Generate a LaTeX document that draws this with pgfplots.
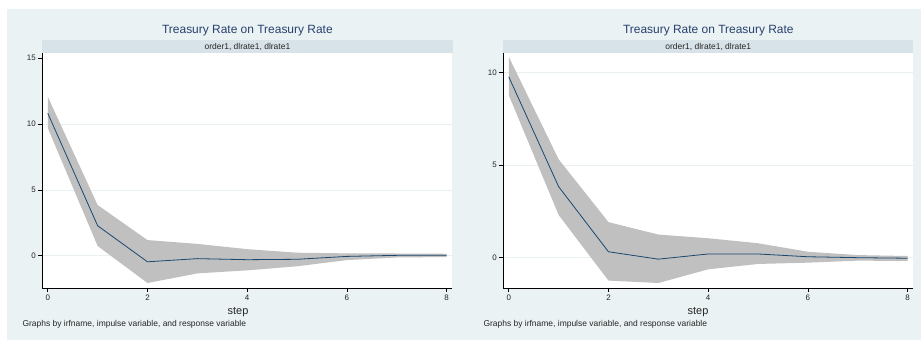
\documentclass[border=0pt]{standalone}
\usepackage{fontspec}
\setmainfont{Liberation Sans}
\usepackage{pgfplots}
\usepackage{pgfplotstable}
\pgfplotsset{compat=1.18}

\definecolor{bgc}{RGB}{234,242,243}
\definecolor{stripc}{RGB}{216,227,233}
\definecolor{navyc}{RGB}{26,71,111}
\definecolor{titlec}{RGB}{40,64,110}
\definecolor{bandc}{RGB}{192,192,192}
\definecolor{gridc}{RGB}{232,240,241}

% impulse response of the Treasury rate (irf) ...
\pgfplotstableread{
step irf
0 10.82
1 2.28
2 -0.46
3 -0.22
4 -0.30
5 -0.27
6 -0.05
7 0.03
8 0.03
}\irfA
% ... and its confidence band: upper bound out, lower bound back
\pgfplotstableread{
step bound
0 12.08
1 3.85
2 1.19
3 0.90
4 0.50
5 0.23
6 0.18
7 0.17
8 0.15
8 -0.10
7 -0.13
6 -0.33
5 -0.80
4 -1.11
3 -1.34
2 -2.07
1 0.74
0 9.70
}\bandA

\pgfplotstableread{
step irf
0 9.78
1 3.84
2 0.32
3 -0.08
4 0.20
5 0.20
6 0.05
7 0.00
8 -0.03
}\irfB
\pgfplotstableread{
step bound
0 10.86
1 5.32
2 1.92
3 1.25
4 1.05
5 0.78
6 0.32
7 0.14
8 0.09
8 -0.18
7 -0.16
6 -0.27
5 -0.34
4 -0.63
3 -1.37
2 -1.24
1 2.31
0 8.79
}\bandB

\pgfplotsset{
  irfpanel/.style={
    scale only axis, anchor=south west,
    width=410bp, height=235bp,
    xmin=-0.11, xmax=8.115, xtick={0,2,4,6,8},
    axis x line*=bottom, axis y line*=left,
    axis line style={-, black, line width=0.9bp},
    tick align=outside, major tick length=4bp,
    tick style={black, line width=0.6bp},
    ymajorgrids, grid style={gridc, line width=0.7bp},
    tick label style={font=\fontsize{8}{9}\selectfont, text=black!85},
    xticklabel style={yshift=1bp},
    yticklabel style={xshift=1bp},
    extra tick style={grid=none},
    /pgf/number format/assume math mode=true,
    axis background/.style={fill=white},
  },
  irfband/.style={fill=bandc, draw=none},
  irfline/.style={navyc, line width=0.8bp},
}

\begin{document}
\begin{tikzpicture}
\fill[white] (0bp,0bp) rectangle (921bp,340bp);
\fill[bgc] (7bp,0bp) rectangle (921bp,331bp);

% left panel
\begin{axis}[irfpanel, at={(42.3bp,52bp)}, ymin=-2.45, ymax=15.4,
  ytick={0,5,10}, extra y ticks={15}]
  \addplot[irfband] table[x=step, y=bound] {\bandA} -- cycle;
  \addplot[irfline] table[x=step, y=irf] {\irfA};
\end{axis}
\fill[stripc] (42.3bp,287bp) rectangle (452.5bp,300bp);
\node[font=\fontsize{8.5}{10}\selectfont, text=black!85] at (247.4bp,293.5bp) {order1, dlrate1, dlrate1};
\node[font=\fontsize{12}{14}\selectfont, text=titlec] at (247.4bp,309bp) {Treasury Rate on Treasury Rate};
\node[font=\fontsize{11}{13}\selectfont, text=black!85] at (238bp,28bp) {step};
\node[anchor=west, font=\fontsize{8.5}{10}\selectfont, text=black!85] at (19bp,16bp) {Graphs by irfname, impulse variable, and response variable};

% right panel
\begin{axis}[irfpanel, at={(503.3bp,52bp)}, ymin=-1.64, ymax=11.07, ytick={0,5,10}]
  \addplot[irfband] table[x=step, y=bound] {\bandB} -- cycle;
  \addplot[irfline] table[x=step, y=irf] {\irfB};
\end{axis}
\fill[stripc] (503.3bp,287bp) rectangle (913.3bp,300bp);
\node[font=\fontsize{8.5}{10}\selectfont, text=black!85] at (708.3bp,293.5bp) {order1, dlrate1, dlrate1};
\node[font=\fontsize{12}{14}\selectfont, text=titlec] at (708.3bp,309bp) {Treasury Rate on Treasury Rate};
\node[font=\fontsize{11}{13}\selectfont, text=black!85] at (698bp,28bp) {step};
\node[anchor=west, font=\fontsize{8.5}{10}\selectfont, text=black!85] at (480bp,16bp) {Graphs by irfname, impulse variable, and response variable};
\end{tikzpicture}
\end{document}
